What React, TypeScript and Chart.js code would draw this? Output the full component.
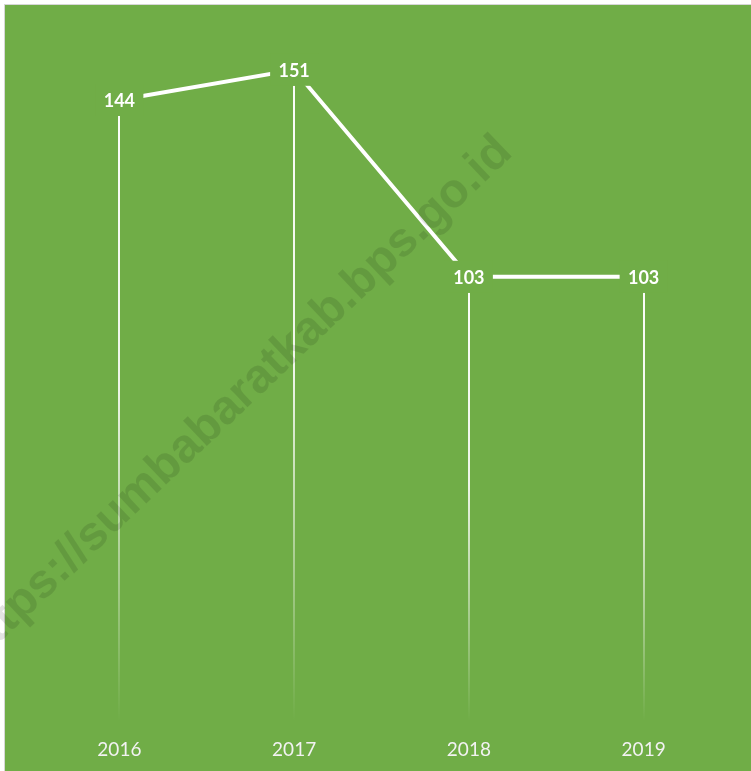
import React, { useEffect, useRef } from "react";
import { Chart, registerables } from "chart.js";

Chart.register(...registerables);

const categories = ["2016", "2017", "2018", "2019"];
const values = [144, 151, 103, 103];
const watermarkText = "https://sumbabaratkab.bps.go.id";

const GREEN = "#70AD47";
const W = 751;
const H = 771;

const bgPlugin = {
  id: "bgPlugin",
  beforeDraw(chart: any) {
    const ctx = chart.ctx;
    ctx.save();
    ctx.fillStyle = "#ffffff";
    ctx.fillRect(0, 0, W, H);
    ctx.fillStyle = "#d6d6d6";
    ctx.fillRect(4, 4, W - 4, H - 4);
    ctx.fillStyle = GREEN;
    ctx.fillRect(5, 5, W - 5, H - 5);
    ctx.restore();
  },
};

const dropPlugin = {
  id: "dropPlugin",
  beforeDatasetsDraw(chart: any) {
    const ctx = chart.ctx;
    const meta = chart.getDatasetMeta(0);
    const y0 = chart.scales.y.getPixelForValue(0);
    ctx.save();
    meta.data.forEach((pt: any) => {
      const top = pt.y + 16;
      const g = ctx.createLinearGradient(0, top, 0, y0);
      g.addColorStop(0, "rgba(255,255,255,0.97)");
      g.addColorStop(0.45, "rgba(255,255,255,0.88)");
      g.addColorStop(1, "rgba(255,255,255,0)");
      ctx.strokeStyle = g;
      ctx.lineWidth = 2;
      ctx.beginPath();
      ctx.moveTo(Math.round(pt.x), top);
      ctx.lineTo(Math.round(pt.x), y0);
      ctx.stroke();
    });
    ctx.restore();
  },
};

const labelPlugin = {
  id: "labelPlugin",
  afterDatasetsDraw(chart: any) {
    const ctx = chart.ctx;
    const meta = chart.getDatasetMeta(0);
    ctx.save();
    meta.data.forEach((pt: any, i: number) => {
      ctx.fillStyle = GREEN;
      ctx.fillRect(pt.x - 24, pt.y - 16, 48, 32);
      ctx.fillStyle = "#ffffff";
      ctx.font = "bold 18px Lato";
      ctx.textAlign = "center";
      ctx.textBaseline = "middle";
      ctx.fillText(String(values[i]), pt.x, pt.y + 1);
    });
    ctx.restore();
  },
};

const watermarkPlugin = {
  id: "watermarkPlugin",
  afterDraw(chart: any) {
    const ctx = chart.ctx;
    ctx.save();
    ctx.translate(236, 400);
    ctx.rotate((-43.5 * Math.PI) / 180);
    ctx.font = "bold 48px 'Liberation Sans'";
    ctx.textAlign = "center";
    ctx.textBaseline = "middle";
    ctx.fillStyle = "rgba(0,0,0,0.11)";
    ctx.fillText(watermarkText, 0, 0);
    ctx.restore();
  },
};

export default function App() {
  const ref = useRef<HTMLCanvasElement | null>(null);

  useEffect(() => {
    document.body.style.margin = "0";
    if (!ref.current) return;
    const chart = new Chart(ref.current, {
      type: "line",
      data: {
        labels: categories,
        datasets: [
          {
            data: values,
            borderColor: "#ffffff",
            borderWidth: 4,
            pointRadius: 0,
            pointHoverRadius: 0,
            tension: 0,
            fill: false,
            clip: false as any,
          },
        ],
      },
      options: {
        animation: false,
        responsive: false,
        events: [],
        layout: { padding: { left: 32, right: 20, top: 31, bottom: 14 } },
        plugins: {
          legend: { display: false },
          tooltip: { enabled: false },
          title: { display: false },
        },
        scales: {
          x: {
            offset: true,
            grid: { display: false, drawTicks: false },
            border: { display: false },
            ticks: {
              color: "#f2f2f2",
              font: { family: "Lato", size: 19 },
              padding: 17,
            },
            afterFit(axis: any) {
              axis.height = 36;
            },
          },
          y: {
            display: false,
            min: 0,
            max: 160,
          },
        },
      },
      plugins: [bgPlugin, dropPlugin, labelPlugin, watermarkPlugin],
    });
    return () => chart.destroy();
  }, []);

  return (
    <div style={{ position: "absolute", left: 0, top: 0, width: W, height: H }}>
      <canvas ref={ref} width={W} height={H} style={{ display: "block" }} />
    </div>
  );
}
